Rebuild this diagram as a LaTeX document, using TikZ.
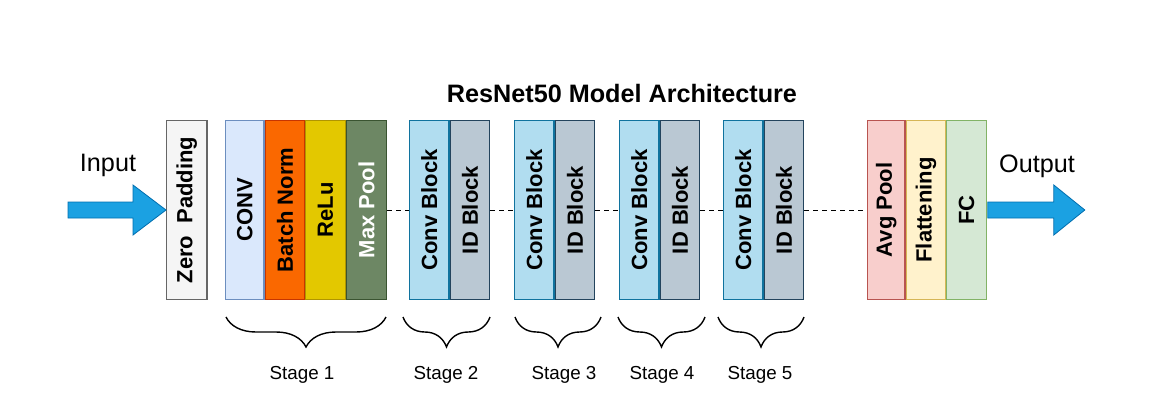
\documentclass[tikz,border=0pt]{standalone}
\usepackage{fontspec}
\setmainfont{Liberation Sans}
\usetikzlibrary{positioning, decorations.pathreplacing}

\definecolor{padfill}{HTML}{F5F5F5}
\definecolor{padline}{HTML}{666666}
\definecolor{convfill}{HTML}{DAE8FC}
\definecolor{convline}{HTML}{6C8EBF}
\definecolor{bnfill}{HTML}{FA6800}
\definecolor{bnline}{HTML}{C73500}
\definecolor{relufill}{HTML}{E3C800}
\definecolor{reluline}{HTML}{B09500}
\definecolor{poolfill}{HTML}{6D8764}
\definecolor{poolline}{HTML}{3A5431}
\definecolor{cbfill}{HTML}{B1DDF0}
\definecolor{cbline}{HTML}{10739E}
\definecolor{idfill}{HTML}{BAC8D3}
\definecolor{idline}{HTML}{23445D}
\definecolor{avgfill}{HTML}{F8CECC}
\definecolor{avgline}{HTML}{B85450}
\definecolor{flatfill}{HTML}{FFF2CC}
\definecolor{flatline}{HTML}{D6B656}
\definecolor{fcfill}{HTML}{D5E8D4}
\definecolor{fcline}{HTML}{82B366}
\definecolor{arrowfill}{HTML}{1BA1E2}
\definecolor{arrowline}{HTML}{006EAF}

\newcommand{\uptext}[1]{\rotatebox{90}{#1}}

\begin{document}
\begin{tikzpicture}[x=0.5pt, y=-0.5pt, node distance=0pt,
    layer/.style = {draw, line width=0.6pt, minimum width=19.7pt, minimum height=89.7pt,
                    inner sep=0pt, font=\fontsize{11}{13}\selectfont\bfseries},
    bigarrow/.style = {fill=arrowfill, draw=arrowline, line width=0.4pt},
    dashline/.style = {dash pattern=on 2.5pt off 2pt, line width=0.5pt},
    stagebrace/.style = {decorate, decoration={brace, mirror, amplitude=15pt}, line width=0.7pt},
    stagelbl/.style = {anchor=base, font=\fontsize{9.4}{11}\selectfont},
    biglbl/.style = {anchor=base, font=\fontsize{12.6}{15}\selectfont}]
    \useasboundingbox (0,0) rectangle (1150,402);

    % title
    \node[biglbl, font=\fontsize{12.6}{15}\selectfont\bfseries] (title) at (622,102) {ResNet50 Model Architecture};

    % input side
    \node[layer, fill=padfill, draw=padline, minimum width=20.2pt, anchor=west] (zp) at (166,210) {\uptext{Zero\ \ Padding}};
    \node[biglbl] (inlbl) at (108,171) {Input};
    \draw[bigarrow, shift={(zp.west)}] (-98,-8) -- (-33,-8) -- (-33,-25) -- (0,0) -- (-33,25) -- (-33,8) -- (-98,8) -- cycle;

    % stage 1
    \node[layer, fill=convfill, draw=convline, minimum width=19.2pt, anchor=west] (conv) at (225,210) {\uptext{CONV}};
    \node[layer, fill=bnfill, draw=bnline, right=of conv] (bn) {\uptext{Batch Norm}};
    \node[layer, fill=relufill, draw=reluline, right=of bn] (relu) {\uptext{ReLu}};
    \node[layer, fill=poolfill, draw=poolline, text=white, minimum width=20.2pt, right=of relu] (mp) {\uptext{Max Pool}};

    % stages 2 to 5
    \node[layer, fill=cbfill, draw=cbline, anchor=west] (cb2) at (409,210) {\uptext{Conv Block}};
    \node[layer, fill=idfill, draw=idline, right=of cb2] (id2) {\uptext{ID Block}};
    \node[layer, fill=cbfill, draw=cbline, anchor=west] (cb3) at (514,210) {\uptext{Conv Block}};
    \node[layer, fill=idfill, draw=idline, right=of cb3] (id3) {\uptext{ID Block}};
    \node[layer, fill=cbfill, draw=cbline, anchor=west] (cb4) at (619,210) {\uptext{Conv Block}};
    \node[layer, fill=idfill, draw=idline, right=of cb4] (id4) {\uptext{ID Block}};
    \node[layer, fill=cbfill, draw=cbline, anchor=west] (cb5) at (723,210) {\uptext{Conv Block}};
    \node[layer, fill=idfill, draw=idline, right=of cb5] (id5) {\uptext{ID Block}};

    % head
    \node[layer, fill=avgfill, draw=avgline, minimum width=18.7pt, anchor=west] (avg) at (867,210) {\uptext{Avg Pool}};
    \node[layer, fill=flatfill, draw=flatline, right=of avg] (flat) {\uptext{Flattening}};
    \node[layer, fill=fcfill, draw=fcline, right=of flat] (fc) {\uptext{FC}};

    % output side
    \node[biglbl] (outlbl) at (1037,172) {Output};
    \draw[bigarrow, shift={(fc.east)}] (1,-8) -- (67,-8) -- (67,-25) -- (98,0) -- (67,25) -- (67,8) -- (1,8) -- cycle;

    % dashed links
    \draw[dashline] (mp.east) -- (cb2.west);
    \draw[dashline] (id2.east) -- (cb3.west);
    \draw[dashline] (id3.east) -- (cb4.west);
    \draw[dashline] (id4.east) -- (cb5.west);
    \draw[dashline] (id5.east) -- (avg.west);

    % stage braces
    \draw[stagebrace] (226,317) -- (386,317);
    \draw[stagebrace] (403,317) -- (490,317);
    \draw[stagebrace] (515,317) -- (601,317);
    \draw[stagebrace] (618,317) -- (705,317);
    \draw[stagebrace] (718,317) -- (804,317);

    \node[stagelbl] (s1) at (302,379) {Stage 1};
    \node[stagelbl] (s2) at (446,379) {Stage 2};
    \node[stagelbl] (s3) at (564,379) {Stage 3};
    \node[stagelbl] (s4) at (662,379) {Stage 4};
    \node[stagelbl] (s5) at (760,379) {Stage 5};
\end{tikzpicture}
\end{document}
